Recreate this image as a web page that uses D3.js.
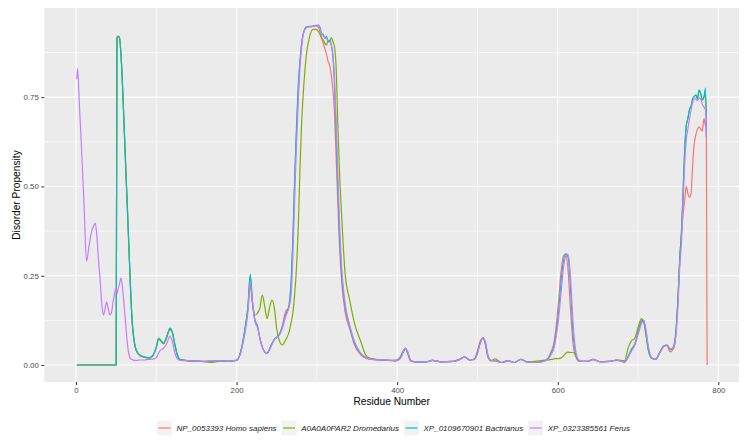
<!DOCTYPE html>
<html><head><meta charset="utf-8">
<script src="https://cdn.jsdelivr.net/npm/d3@7"></script>
<style>
body{margin:0;background:#fff}
svg{display:block}
text{font-family:"Liberation Sans", Arial, Helvetica, sans-serif}
</style>
</head><body>
<svg id="chart" width="749" height="444"></svg>
<script>
// ---------------- data ----------------
const seriesNames = ["NP_0053393 Homo sapiens", "A0A0A0PAR2 Dromedarius", "XP_0109670901 Bactrianus", "XP_0323385561 Ferus"];
const seriesColors = ["#F8766D", "#7CAE00", "#00BFC4", "#C77CFF"];

const residues = [
  1,2,4,7,10,13,16,19,22,24,26,28,30,32,34,36,38,40,42,44,46,48,50,
  51,52,54,56,58,60,62,64,66,68,70,72,75,80,85,90,95,100,103,106,109,113,117,120,123,126,130,135,140,
  150,160,170,180,190,200,
  205,210,214,217,220,223,226,229,232,235,238,241,244,247,250,253,257,261,265,268,270,272,274,277,279,281,283,
  287,291,295,299,302,304,306,308,310,312,314,316,318,320,322,324,326,328,331,335,341,347,354,362,370,380,
  390,398,403,407,410,413,417,425,435,444,455,470,478,484,490,496,500,503,507,510,513,517,522,530,538,546,554,562,572,582,
  588,592,595,598,601,604,607,610,613,616,619,622,626,
  630,637,644,653,664,674,683,688,692,696,700,704,707,710,713,717,722,727,732,736,740,744,747,
  750,752,754,756,758,760,762,764,766,768,770,772,774,776,778,780,782,784,785,786
];

const homoSapiens = [
  0,0,0,0,0, 0,0,0,0,0, 0,0,0,0,0, 0,0,0,0,0, 0,0,0,
  0.915,0.92,0.918,0.868,0.775, 0.66,0.545,0.435,0.32,0.21, 0.118,0.073,0.04,0.026,0.022, 0.02,0.024,0.05,0.074,0.067, 0.06,0.079,0.1,0.09,0.058, 0.029,0.015,0.014,0.012,
  0.011,0.010,0.011,0.012,0.011,0.013,
  0.036,0.093,0.158,0.25,0.168, 0.124,0.108,0.074,0.05,0.037, 0.033,0.045,0.06,0.072,0.078, 0.085,0.11,0.15,0.16,0.23, 0.34,0.49,0.62,0.78,0.85, 0.9,0.927,
  0.945,0.947,0.948,0.95,0.945, 0.93,0.915,0.9,0.885,0.87, 0.85,0.838,0.81,0.77,0.7, 0.58,0.46,0.34,0.23,0.15, 0.1,0.055,0.03,0.018,0.015, 0.014,
  0.013,0.013,0.02,0.038,0.046, 0.032,0.011,0.008,0.008,0.013, 0.009,0.01,0.016,0.023,0.014, 0.017,0.04,0.065,0.075,0.055, 0.022,0.012,0.012,0.007,0.012, 0.007,0.016,0.008,0.007,0.011,
  0.02,0.04,0.06,0.11,0.18, 0.26,0.305,0.31,0.26,0.15, 0.06,0.025,0.012,
  0.01,0.01,0.015,0.009,0.01, 0.013,0.008,0.025,0.045,0.06, 0.095,0.125,0.124,0.085,0.04, 0.019,0.016,0.035,0.052,0.054, 0.037,0.045,0.085,
  0.2,0.3,0.36,0.42,0.46, 0.5,0.48,0.47,0.48,0.56, 0.62,0.645,0.66,0.667,0.66, 0.655,0.69,0.67,0.68,0
];

const dromedarius = [
  0,0,0,0,0, 0,0,0,0,0, 0,0,0,0,0, 0,0,0,0,0, 0,0,0,
  0.915,0.92,0.918,0.87,0.78, 0.665,0.548,0.438,0.325,0.205, 0.12,0.074,0.041,0.026,0.022, 0.019,0.024,0.049,0.073,0.066, 0.06,0.078,0.1,0.09,0.058, 0.029,0.014,0.013,0.011,
  0.011,0.009,0.007,0.011,0.010,0.013,
  0.036,0.093,0.158,0.22,0.17, 0.14,0.145,0.16,0.196,0.165, 0.13,0.16,0.182,0.16,0.1, 0.07,0.056,0.07,0.09,0.12, 0.145,0.19,0.25,0.4,0.555, 0.68,0.76,
  0.87,0.92,0.94,0.94,0.933, 0.925,0.915,0.91,0.9,0.896, 0.91,0.905,0.917,0.905,0.89, 0.83,0.68,0.55,0.41,0.26, 0.18,0.115,0.07,0.024,0.017, 0.014,
  0.013,0.011,0.017,0.034,0.046, 0.034,0.012,0.008,0.008,0.013, 0.009,0.01,0.016,0.022,0.014, 0.016,0.035,0.06,0.075,0.06, 0.025,0.012,0.017,0.007,0.012, 0.007,0.016,0.009,0.01,0.013,
  0.014,0.016,0.017,0.018,0.018, 0.02,0.025,0.033,0.036,0.035, 0.035,0.03,0.011,
  0.01,0.01,0.016,0.009,0.01, 0.014,0.012,0.05,0.068,0.075, 0.105,0.13,0.12,0.08,0.04, 0.019,0.016,0.035,0.053,0.056, 0.043,0.05,0.09,
  0.2,0.3,0.37,0.48,0.6, 0.67,0.69,0.714,0.725,0.745, 0.752,0.756,0.745,0.77,0.76, 0.742,0.75,0.76,0.7,null
];

const bactrianus = [
  0,0,0,0,0, 0,0,0,0,0, 0,0,0,0,0, 0,0,0,0,0, 0,0,0,
  0.915,0.92,0.918,0.87,0.78, 0.667,0.55,0.44,0.32,0.21, 0.12,0.075,0.042,0.027,0.023, 0.02,0.025,0.05,0.075,0.068, 0.061,0.08,0.103,0.092,0.06, 0.03,0.015,0.014,0.012,
  0.011,0.010,0.011,0.012,0.011,0.014,
  0.037,0.095,0.16,0.254,0.17, 0.125,0.11,0.075,0.05,0.037, 0.033,0.045,0.06,0.072,0.078, 0.085,0.107,0.14,0.165,0.24, 0.35,0.5,0.63,0.79,0.854, 0.9,0.928,
  0.947,0.948,0.949,0.951,0.952, 0.945,0.928,0.925,0.915,0.92, 0.905,0.91,0.895,0.86,0.78, 0.64,0.5,0.37,0.25,0.165, 0.107,0.06,0.033,0.019,0.016, 0.014,
  0.013,0.013,0.018,0.035,0.047, 0.035,0.012,0.008,0.008,0.013, 0.009,0.01,0.016,0.023,0.014, 0.016,0.035,0.06,0.076,0.06, 0.025,0.012,0.012,0.007,0.012, 0.007,0.016,0.008,0.007,0.01,
  0.018,0.035,0.05,0.09,0.15, 0.23,0.29,0.312,0.3,0.21, 0.09,0.035,0.013,
  0.01,0.01,0.016,0.009,0.01, 0.014,0.008,0.025,0.045,0.058, 0.09,0.12,0.126,0.09,0.042, 0.019,0.016,0.035,0.053,0.056, 0.043,0.05,0.09,
  0.2,0.3,0.37,0.48,0.6, 0.67,0.69,0.714,0.725,0.745, 0.752,0.756,0.745,0.77,0.76, 0.742,0.75,0.775,0.64,null
];

const ferus = [
  0.80,0.83,0.74,0.60,0.45, 0.29,0.33,0.37,0.39,0.397, 0.36,0.294,0.24,0.175,0.14, 0.155,0.177,0.16,0.14,0.145, 0.175,0.2,0.215,
  0.20,0.21,0.225,0.243,0.215, 0.165,0.11,0.06,0.028,0.018, 0.015,0.013,0.013,0.014,0.014, 0.016,0.016,0.02,0.035,0.043, 0.047,0.06,0.081,0.065,0.035, 0.018,0.013,0.012,0.012,
  0.011,0.010,0.011,0.012,0.011,0.013,
  0.033,0.085,0.145,0.228,0.175, 0.12,0.105,0.075,0.05,0.036, 0.032,0.042,0.057,0.07,0.077, 0.083,0.103,0.135,0.16,0.2, 0.3,0.44,0.58,0.75,0.835, 0.89,0.925,
  0.945,0.947,0.948,0.95,0.95, 0.94,0.925,0.922,0.915,0.915, 0.905,0.905,0.895,0.87,0.8, 0.68,0.54,0.41,0.27,0.175, 0.11,0.065,0.035,0.02,0.016, 0.014,
  0.013,0.012,0.016,0.032,0.047, 0.038,0.013,0.008,0.008,0.013, 0.009,0.01,0.015,0.022,0.015, 0.015,0.032,0.057,0.076,0.063, 0.028,0.012,0.012,0.007,0.012, 0.007,0.016,0.008,0.007,0.01,
  0.016,0.03,0.045,0.08,0.13, 0.2,0.27,0.305,0.31,0.24, 0.12,0.045,0.014,
  0.01,0.01,0.016,0.009,0.01, 0.014,0.008,0.022,0.04,0.055, 0.085,0.115,0.124,0.095,0.05, 0.02,0.016,0.033,0.052,0.056, 0.045,0.048,0.08,
  0.18,0.28,0.34,0.45,0.56, 0.63,0.66,0.69,0.714,0.735, 0.745,0.745,0.74,0.748,0.745, 0.73,0.722,0.714,0.64,null
];

const xTicks = [0, 200, 400, 600, 800];
const xMinorTicks = [100, 300, 500, 700];
const yTicks = [0, 0.25, 0.50, 0.75];
const yMinorTicks = [0.125, 0.375, 0.625, 0.875];
const xTitle = "Residue Number";
const yTitle = "Disorder Propensity";

// ---------------- drawing ----------------
const svg = d3.select("#chart");
const P = {left: 44.3, right: 739, top: 8, bottom: 382};

const x = d3.scaleLinear().domain([-39.5, 825.7]).range([P.left, P.right]);
const y = d3.scaleLinear().domain([-0.0476, 0.9996]).range([P.bottom, P.top]);

svg.append("rect").attr("width", 749).attr("height", 444).attr("fill", "#ffffff");
svg.append("rect")
  .attr("x", P.left).attr("y", P.top)
  .attr("width", P.right - P.left).attr("height", P.bottom - P.top)
  .attr("fill", "#EBEBEB");

const grid = svg.append("g");
grid.selectAll(".ymin").data(yMinorTicks).join("line")
  .attr("x1", P.left).attr("x2", P.right)
  .attr("y1", d => y(d)).attr("y2", d => y(d))
  .attr("stroke", "#fff").attr("stroke-width", 0.55);
grid.selectAll(".xmin").data(xMinorTicks).join("line")
  .attr("y1", P.top).attr("y2", P.bottom)
  .attr("x1", d => x(d)).attr("x2", d => x(d))
  .attr("stroke", "#fff").attr("stroke-width", 0.55);
grid.selectAll(".ymaj").data(yTicks).join("line")
  .attr("x1", P.left).attr("x2", P.right)
  .attr("y1", d => y(d)).attr("y2", d => y(d))
  .attr("stroke", "#fff").attr("stroke-width", 1.1);
grid.selectAll(".xmaj").data(xTicks).join("line")
  .attr("y1", P.top).attr("y2", P.bottom)
  .attr("x1", d => x(d)).attr("x2", d => x(d))
  .attr("stroke", "#fff").attr("stroke-width", 1.1);

svg.append("clipPath").attr("id", "clip")
  .append("rect").attr("x", P.left).attr("y", P.top)
  .attr("width", P.right - P.left).attr("height", P.bottom - P.top);

const seriesValues = [homoSapiens, dromedarius, bactrianus, ferus];
const line = d3.line()
  .defined(d => d[1] !== null)
  .x(d => x(d[0])).y(d => y(d[1]))
  .curve(d3.curveMonotoneX);

const lines = svg.append("g").attr("clip-path", "url(#clip)");
seriesValues.forEach((vals, i) => {
  const pts = residues.map((r, j) => [r, vals[j] === undefined ? null : vals[j]]);
  lines.append("path")
    .attr("d", line(pts))
    .attr("fill", "none")
    .attr("stroke", seriesColors[i])
    .attr("stroke-width", 1.2)
    .attr("stroke-linejoin", "round");
});

// axes
const xAxis = d3.axisBottom(x).tickValues(xTicks).tickSize(3).tickPadding(2.5).tickFormat(d3.format("d"));
const gx = svg.append("g").attr("transform", `translate(0,${P.bottom})`).call(xAxis);
gx.select(".domain").remove();
gx.selectAll(".tick line").attr("stroke", "#333333").attr("stroke-width", 1);
gx.selectAll(".tick text").attr("fill", "#4D4D4D").style("font-size", "7.8px").style("font-family", '"Liberation Sans", Arial, sans-serif');

const yAxis = d3.axisLeft(y).tickValues(yTicks).tickSize(3).tickPadding(2.5).tickFormat(d3.format(".2f"));
const gy = svg.append("g").attr("transform", `translate(${P.left},0)`).call(yAxis);
gy.select(".domain").remove();
gy.selectAll(".tick line").attr("stroke", "#333333").attr("stroke-width", 1);
gy.selectAll(".tick text").attr("fill", "#4D4D4D").style("font-size", "7.8px").style("font-family", '"Liberation Sans", Arial, sans-serif');

svg.append("text")
  .attr("x", (P.left + P.right) / 2).attr("y", 405)
  .attr("text-anchor", "middle")
  .attr("fill", "#000").style("font-size", "10.2px")
  .text(xTitle);

svg.append("text")
  .attr("transform", `translate(19.5,${(P.top + P.bottom) / 2}) rotate(-90)`)
  .attr("text-anchor", "middle")
  .attr("fill", "#000").style("font-size", "10.2px")
  .text(yTitle);

// legend
const legY = 428, keyS = 15, gapKL = 4.6, gapItem = 5;
const leg = svg.append("g");
const items = seriesNames.map((name, i) => {
  const g = leg.append("g");
  g.append("rect").attr("width", keyS).attr("height", keyS).attr("y", -keyS / 2).attr("fill", "#F2F2F2");
  g.append("line").attr("x1", 1.5).attr("x2", keyS - 1.5).attr("y1", 0).attr("y2", 0)
    .attr("stroke", seriesColors[i]).attr("stroke-width", 1.2);
  const t = g.append("text").attr("x", keyS + gapKL).attr("y", 0).attr("dy", "0.35em")
    .style("font-size", "8px").style("font-style", "italic").attr("fill", "#1a1a1a").text(name);
  return {g, w: keyS + gapKL + t.node().getComputedTextLength()};
});
const total = d3.sum(items, d => d.w) + gapItem * (items.length - 1);
let cx = 393.5 - total / 2;
items.forEach(it => {
  it.g.attr("transform", `translate(${cx},${legY})`);
  cx += it.w + gapItem;
});
</script>
</body></html>
